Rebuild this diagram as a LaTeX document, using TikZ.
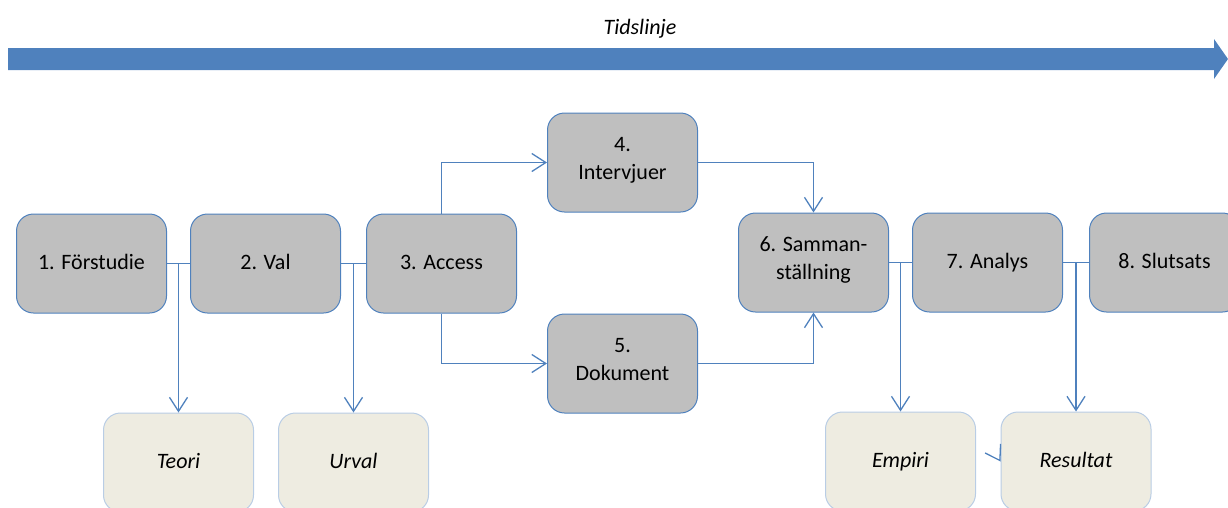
\documentclass[tikz,border=0pt]{standalone}
\usepackage{fontspec}
\setmainfont{Carlito}
\usepackage{tikz}
\usetikzlibrary{positioning, arrows.meta}
\usepackage{xcolor}
\definecolor{stepgray}{HTML}{BFBFBF}
\definecolor{lineblue}{HTML}{4F81BD}
\definecolor{notefill}{HTML}{EEECE1}
\definecolor{noteline}{HTML}{B9CDE5}

\begin{document}
\begin{tikzpicture}[
    x=1pt, y=1pt,
    node distance=23pt,
    stepbox/.style={
        rectangle, rounded corners=17pt,
        draw=lineblue, line width=1pt,
        fill=stepgray,
        minimum width=150pt, minimum height=99pt,
        align=center, font=\fontsize{22}{28}\selectfont,
        execute at begin node=\strut, execute at end node=\strut
    },
    notebox/.style={
        rectangle, rounded corners=17pt,
        draw=noteline, line width=1pt,
        fill=notefill,
        minimum width=150pt, minimum height=99pt,
        align=center, font=\fontsize{22}{28}\selectfont\itshape,
        execute at begin node=\strut
    },
    link/.style={draw=lineblue, line width=1.3pt},
    arrow/.style={link, -{Straight Barb[length=14pt, width=18pt, line width=1.3pt]}}
]
\useasboundingbox (0,0) rectangle (1228,-507);

% Timeline on top
\fill[lineblue] (8,-48) -- (1214,-48) -- (1214,-39) -- (1228,-59)
    -- (1214,-79) -- (1214,-70) -- (8,-70) -- cycle;
\node[font=\fontsize{22}{28}\selectfont\itshape] (tid) at (640,-29) {Tidslinje};

% Main row of steps
\node[stepbox] (s1) at (91.5,-263.5) {1. F\"orstudie};
\node[stepbox, right=of s1] (s2) {2. Val};
\node[stepbox, right=25pt of s2] (s3) {3. Access};
\node[stepbox, right=30pt of s3, yshift=101pt] (s4) {4.\\Intervjuer};
\node[stepbox, right=30pt of s3, yshift=-100pt] (s5) {5.\\Dokument};
\node[stepbox, right=40pt of s4, yshift=-100pt] (s6) {6. Samman-\\st\"allning};
\node[stepbox, right=of s6] (s7) {7. Analys};
\node[stepbox, right=26pt of s7] (s8) {8. Slutsats};

% Outcomes below
\path (s1.east) -- (s2.west) coordinate[midway] (j1);
\path (s2.east) -- (s3.west) coordinate[midway] (j2);
\path (s6.east) -- (s7.west) coordinate[midway] (j6);
\path (s7.east) -- (s8.west) coordinate[midway] (j7);
\node[notebox, below=149pt of j1] (teori) {Teori};
\node[notebox, below=149pt of j2] (urval) {Urval};
\node[notebox, below=149pt of j6] (empiri) {Empiri};
\node[notebox, below=149pt of j7] (resultat) {Resultat};

% Connectors between steps
\draw[link] (s1) -- (s2);
\draw[link] (s2) -- (s3);
\draw[link] (s6) -- (s7);
\draw[link] (s7) -- (s8);
\draw[arrow] (s3.north) |- (s4.west);
\draw[arrow] (s3.south) |- (s5.west);
\draw[arrow] (s4.east) -| (s6.north);
\draw[arrow] (s5.east) -| (s6.south);

% Branches down to the outcomes
\draw[arrow] (j1) -- (teori);
\draw[arrow] (j2) -- (urval);
\draw[arrow] (j6) -- (empiri);
\draw[arrow] (j7) -- (resultat);
\draw[arrow] ([shift={(-1pt,1.7pt)}]resultat.west) -- (resultat.west);

\end{tikzpicture}
\end{document}
